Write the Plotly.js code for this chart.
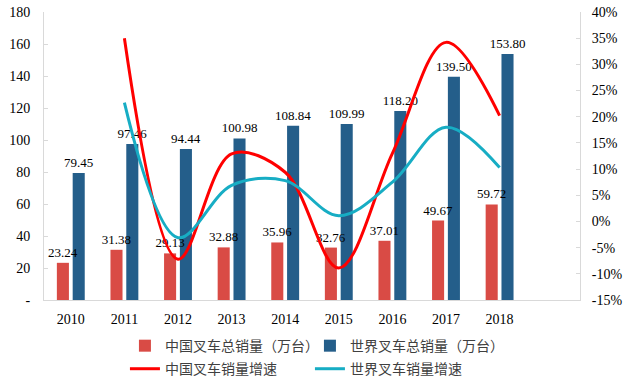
<!DOCTYPE html>
<html>
<head>
<meta charset="utf-8">
<script src="https://cdn.plot.ly/plotly-3.0.1.min.js"></script>
<style>html,body{margin:0;padding:0;background:#fff;}#chart{width:635px;height:381px;}</style>
</head>
<body>
<div id="chart"></div>
<script>
var years = ['2010','2011','2012','2013','2014','2015','2016','2017','2018'];
var chinaSales = [23.24, 31.38, 29.13, 32.88, 35.96, 32.76, 37.01, 49.67, 59.72];
var worldSales = [79.45, 97.46, 94.44, 100.98, 108.84, 109.99, 118.20, 139.50, 153.80];
var growthYears = ['2011','2012','2013','2014','2015','2016','2017','2018'];
var chinaGrowth = [35.0, -7.2, 12.9, 9.4, -8.9, 13.0, 34.2, 20.2];
var worldGrowth = [22.7, -3.1, 6.9, 7.8, 1.1, 7.5, 18.0, 10.3];
var leftTickVals = [0, 20, 40, 60, 80, 100, 120, 140, 160, 180];
var leftTickText = ['-', '20', '40', '60', '80', '100', '120', '140', '160', '180'];
var rightTickVals = [-15, -10, -5, 0, 5, 10, 15, 20, 25, 30, 35, 40];
var rightTickText = ['-15%', '-10%', '-5%', '0%', '5%', '10%', '15%', '20%', '25%', '30%', '35%', '40%'];

var serif = '"Liberation Serif", "Times New Roman", serif';
var cjk = '"Noto Sans CJK SC", sans-serif';

var barW = 0.225;
var traces = [
  {type:'bar', x:years, y:worldSales, name:'世界叉车总销量（万台）', legendrank:2,
   width:barW, offset:0.035,
   marker:{color:'#245E8A'}, texttemplate:'%{y:.2f}', textposition:'outside', constraintext:'none',
   textfont:{family:serif, size:13, color:'#000'}, cliponaxis:false, legend:'legend', hoverinfo:'skip'},
  {type:'bar', x:years, y:chinaSales, name:'中国叉车总销量（万台）', legendrank:1,
   width:barW, offset:-0.26,
   marker:{color:'#D94B45'}, texttemplate:'%{y:.2f}', textposition:'outside', constraintext:'none',
   textfont:{family:serif, size:13, color:'#000'}, cliponaxis:false, legend:'legend', hoverinfo:'skip'},
  {type:'scatter', mode:'lines', x:growthYears, y:chinaGrowth, yaxis:'y2', name:'中国叉车销量增速', legendrank:1,
   line:{color:'#FF0000', width:3, shape:'spline', smoothing:1}, legend:'legend2', hoverinfo:'skip'},
  {type:'scatter', mode:'lines', x:growthYears, y:worldGrowth, yaxis:'y2', name:'世界叉车销量增速', legendrank:2,
   line:{color:'#17ADC4', width:3, shape:'spline', smoothing:1}, legend:'legend2', hoverinfo:'skip'}
];

var legendCommon = {orientation:'h', xanchor:'left', yanchor:'middle', entrywidthmode:'pixels',
  font:{family:cjk, size:14, color:'#404040'}, bgcolor:'rgba(0,0,0,0)', traceorder:'normal'};

var layout = {
  width:635, height:381,
  margin:{l:44, r:55, t:12, b:81, autoexpand:false},
  paper_bgcolor:'#fff', plot_bgcolor:'#fff',
  barmode:'overlay',
  showlegend:true,
  xaxis:{type:'category', categoryorder:'array', categoryarray:years, range:[-0.5, 9.5],
    showline:true, linecolor:'#D9D9D9', linewidth:1, ticks:'', showgrid:false, zeroline:false,
    tickfont:{family:serif, size:14, color:'#000'}, ticklabelstandoff:6},
  yaxis:{range:[0,180], tickvals:leftTickVals, ticktext:leftTickText, showline:true, linecolor:'#D9D9D9',
    ticks:'inside', ticklen:4, tickcolor:'#D9D9D9', showgrid:false, zeroline:false,
    tickfont:{family:serif, size:14, color:'#000'}, ticklabelstandoff:10},
  yaxis2:{overlaying:'y', side:'right', range:[-15,40], tickvals:rightTickVals, ticktext:rightTickText,
    showline:true, linecolor:'#D9D9D9', ticks:'inside', ticklen:4, tickcolor:'#D9D9D9',
    showgrid:false, zeroline:false, tickfont:{family:serif, size:14, color:'#000'}, ticklabelstandoff:8},
  legend:Object.assign({}, legendCommon, {x:0.151, y:-0.16, entrywidth:140}),
  legend2:Object.assign({}, legendCommon, {x:0.151, y:-0.24, entrywidth:140})
};

Plotly.newPlot('chart', traces, layout, {staticPlot:true, displayModeBar:false});
</script>
</body>
</html>
